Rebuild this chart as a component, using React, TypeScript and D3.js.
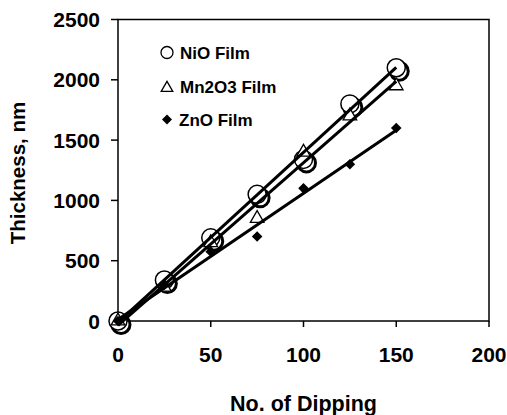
import React from "react";
import * as d3 from "d3";

// dipping numbers (x) and film thickness in nm (y)
const dips = [0, 25, 50, 75, 100, 125, 150];
const nio = [0, 340, 690, 1050, 1340, 1800, 2100];
const mn2o3 = [0, 280, 650, 850, 1400, 1700, 1950];
const zno = [0, 300, 575, 700, 1100, 1300, 1600];

const xTicks = [0, 50, 100, 150, 200];
const yTicks = [0, 500, 1000, 1500, 2000, 2500];

const legendItems = ["NiO Film", "Mn2O3 Film", "ZnO Film"];

const W = 507;
const H = 415;
const font = "Arial, 'Liberation Sans', sans-serif";

// least squares fit, same as an Excel linear trendline
const fit = (xs: number[], ys: number[]) => {
  const mx = d3.mean(xs)!;
  const my = d3.mean(ys)!;
  const sxy = d3.sum(xs, (x, i) => (x - mx) * (ys[i] - my));
  const sxx = d3.sum(xs, (x) => (x - mx) ** 2);
  const slope = sxy / sxx;
  return { slope, intercept: my - slope * mx };
};

const App = () => {
  const x = d3.scaleLinear().domain([0, 200]).range([118, 489]);
  const y = d3.scaleLinear().domain([0, 2500]).range([321, 19.5]);

  const trend = (ys: number[]) => {
    const { slope, intercept } = fit(dips, ys);
    const ends = [dips[0], dips[dips.length - 1]];
    return d3
      .line<number>()
      .x((d) => x(d))
      .y((d) => y(slope * d + intercept))(ends);
  };

  const tri = d3.symbol(d3.symbolTriangle, 80)()!;
  const dia = d3.symbol(d3.symbolSquare, 56)()!;
  const triSmall = d3.symbol(d3.symbolTriangle, 58)()!;
  const diaSmall = d3.symbol(d3.symbolSquare, 50)()!;

  const [x0, x1] = x.range();
  const [y0, y1] = y.range();

  return (
    <div style={{ position: "absolute", left: 0, top: 0 }}>
      <svg width={W} height={H} style={{ display: "block", background: "#fff" }}>
        {/* plot frame */}
        <rect x={x0} y={y1} width={x1 - x0} height={y0 - y1} fill="none" stroke="#000" strokeWidth={1.5} />

        {/* y axis ticks */}
        {yTicks.map((t) => (
          <g key={"y" + t}>
            <line x1={x0 - 7} x2={x0} y1={y(t)} y2={y(t)} stroke="#000" strokeWidth={1.5} />
            <text x={100} y={y(t) + 7.5} textAnchor="end" fontFamily={font} fontWeight="bold" fontSize={21}>
              {t}
            </text>
          </g>
        ))}

        {/* x axis ticks */}
        {xTicks.map((t) => (
          <g key={"x" + t}>
            <line x1={x(t)} x2={x(t)} y1={y0} y2={y0 + 6} stroke="#000" strokeWidth={1.5} />
            <text x={x(t)} y={361.5} textAnchor="middle" fontFamily={font} fontWeight="bold" fontSize={21}>
              {t}
            </text>
          </g>
        ))}

        {/* NiO: open circles with shadow */}
        {dips.map((d, i) => (
          <g key={"n" + i}>
            <circle cx={x(d) + 3} cy={y(nio[i]) + 3.5} r={9} fill="none" stroke="#000" strokeWidth={3} />
            <circle cx={x(d)} cy={y(nio[i])} r={9} fill="#fff" stroke="#000" strokeWidth={1.5} />
          </g>
        ))}

        {/* Mn2O3: open triangles */}
        {dips.map((d, i) => (
          <path
            key={"m" + i}
            d={tri}
            transform={`translate(${x(d)},${y(mn2o3[i])})`}
            fill="#fff"
            stroke="#000"
            strokeWidth={1.3}
          />
        ))}

        {/* ZnO: filled diamonds */}
        {dips.map((d, i) => (
          <path key={"z" + i} d={dia} transform={`translate(${x(d)},${y(zno[i])}) rotate(45)`} fill="#000" />
        ))}

        {/* linear trendlines drawn over the markers */}
        {[nio, mn2o3, zno].map((s, i) => (
          <path key={"t" + i} d={trend(s) ?? ""} fill="none" stroke="#000" strokeWidth={3} />
        ))}

        {/* legend */}
        <g fontFamily={font} fontWeight="bold" fontSize={17}>
          <circle cx={167} cy={52.5} r={6} fill="#fff" stroke="#000" strokeWidth={1.3} />
          <text x={180} y={58.5}>{legendItems[0]}</text>
          <path d={triSmall} transform="translate(167,88)" fill="#fff" stroke="#000" strokeWidth={1.3} />
          <text x={180} y={92.5}>{legendItems[1]}</text>
          <path d={diaSmall} transform="translate(167,119.5) rotate(45)" fill="#000" />
          <text x={179} y={125.5}>{legendItems[2]}</text>
        </g>

        {/* axis titles */}
        <text x={(x0 + x1) / 2} y={411} textAnchor="middle" fontFamily={font} fontWeight="bold" fontSize={21.5}>
          No. of Dipping
        </text>
        <text
          transform="translate(25,173) rotate(-90)"
          textAnchor="middle"
          fontFamily={font}
          fontWeight="bold"
          fontSize={20.5}
        >
          Thickness, nm
        </text>
      </svg>
    </div>
  );
};

export default App;
